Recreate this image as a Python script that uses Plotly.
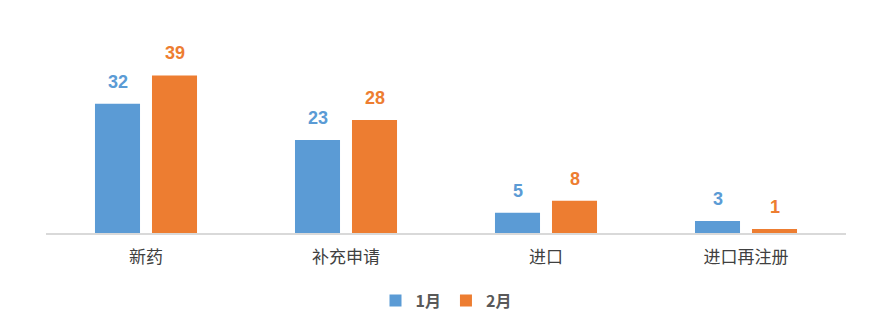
import plotly.graph_objects as go

categories = ["新药", "补充申请", "进口", "进口再注册"]
jan = [32, 23, 5, 3]
feb = [39, 28, 8, 1]
series_names = ["1月", "2月"]
colors = ["#5B9BD5", "#ED7D31"]

fig = go.Figure()
for name, vals, c in zip(series_names, [jan, feb], colors):
    fig.add_trace(go.Bar(x=categories, y=vals, name=f"<b>{name}</b>", marker_color=c,
                         marker_line_width=0))

bargap = 0.43
groupgap = 0.21
slot = (1 - bargap) / 2
for i, (vals, c) in enumerate(zip([jan, feb], colors)):
    off = (i - 0.5) * slot
    for k, v in enumerate(vals):
        fig.add_annotation(x=k + off, y=v, text=f"<b>{v}</b>", showarrow=False,
                           yanchor="bottom", yshift=10, xref="x", yref="y",
                           font=dict(size=18, color=c, family="Liberation Sans, Noto Sans CJK SC"))

fig.update_layout(
    width=890, height=328,
    margin=dict(l=46, r=44, t=31, b=95, autoexpand=False),
    plot_bgcolor="white", paper_bgcolor="white",
    barmode="group", bargap=bargap, bargroupgap=groupgap,
    showlegend=True,
    legend=dict(orientation="h", x=0.5, xanchor="center", y=-0.335, yanchor="middle",
                font=dict(size=16, color="#595959", family="Noto Sans CJK SC"),
                itemwidth=30, traceorder="normal", tracegroupgap=0),
    font=dict(family="Noto Sans CJK SC", color="#595959"),
)
fig.update_xaxes(showline=True, linecolor="#D9D9D9", linewidth=2, ticks="",
                 tickfont=dict(size=17, color="#404040", family="Noto Sans CJK SC"),
                 ticklabelstandoff=8,
                 range=[-0.5, 3.5])
fig.update_yaxes(range=[0, 50], visible=False, showgrid=False, zeroline=False)

fig.write_html("out.html")
